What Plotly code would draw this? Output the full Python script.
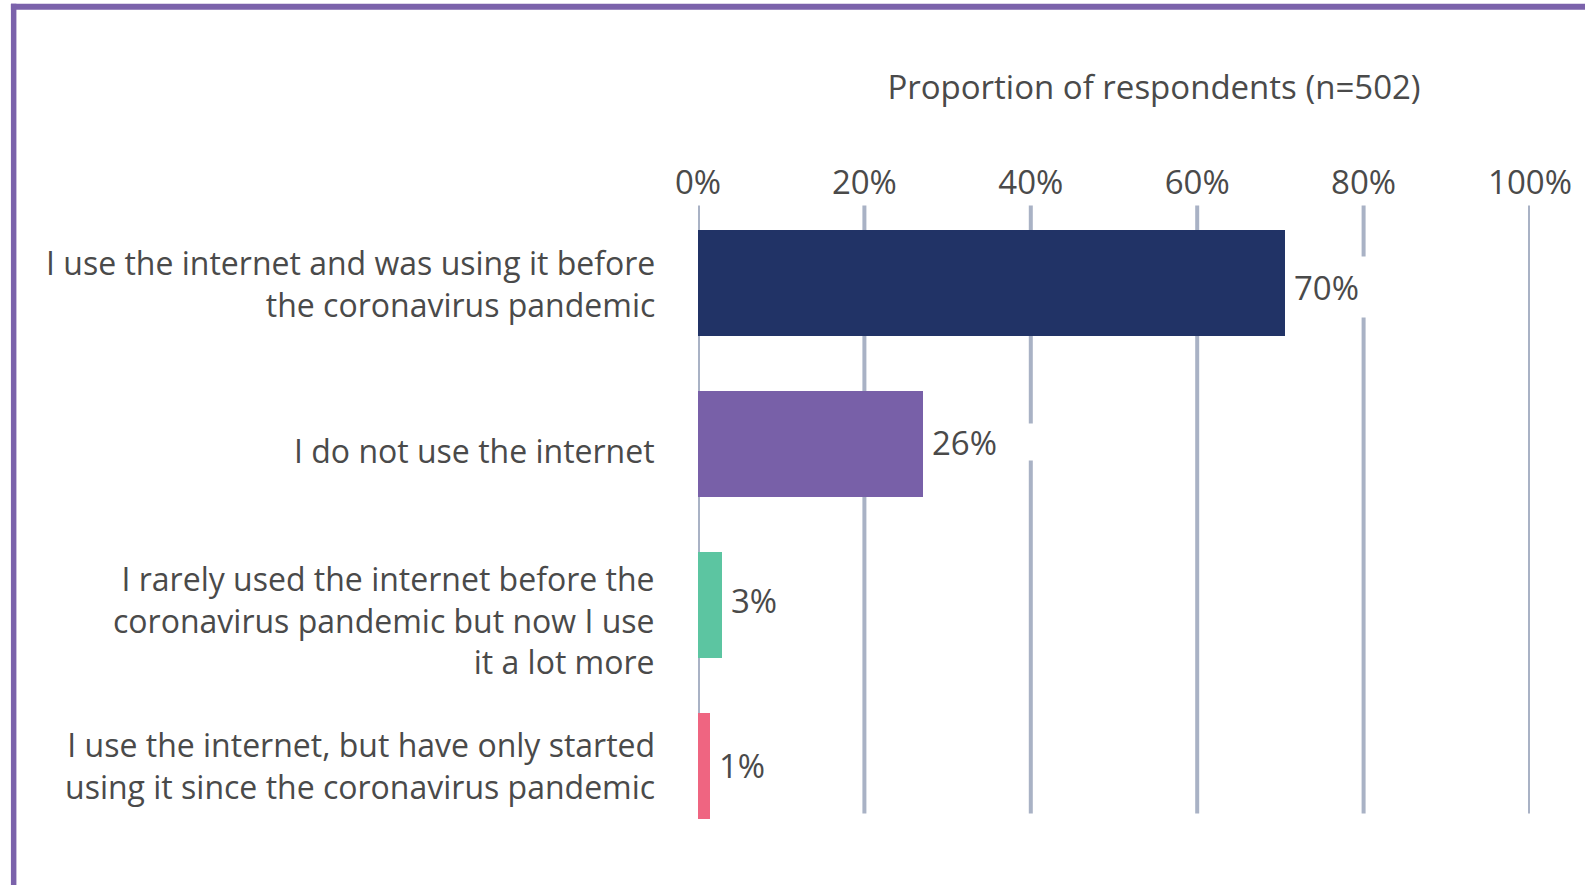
import plotly.graph_objects as go

# ---- data ----
categories = [
    "I use the internet and was using it before<br>the coronavirus pandemic",
    "I do not use the internet",
    "I rarely used the internet before the<br>coronavirus pandemic but now I use<br>it a lot more",
    "I use the internet, but have only started<br>using it since the coronavirus pandemic",
]
values = [70.5, 27.0, 2.9, 1.4]
value_labels = ["70%", "26%", "3%", "1%"]
bar_colors = ["#213366", "#7860A8", "#5CC5A1", "#EF6581"]
tick_values = [0, 20, 40, 60, 80, 100]
tick_labels = ["0%", "20%", "40%", "60%", "80%", "100%"]
title_text = "Proportion of respondents (n=502)"

# ---- layout geometry (pixels) ----
WIDTH, HEIGHT = 1585, 885
L, R = 697.5, 55
T, B = 202.5, 38.5
PW = WIDTH - L - R
PH = HEIGHT - T - B

def fx(px):
    return (px - L) / PW

def fy(py):
    return 1 - (py - T) / PH

FONT = "Open Sans"
TXT = "#4A4A4A"
GRID = "#A9B2C5"
BORDER = "#7B62AB"
FS_CAT = 32
FS_NUM = 33

ypos = list(range(len(categories)))

fig = go.Figure()
fig.add_trace(go.Bar(
    x=values, y=ypos, orientation="h",
    marker=dict(color=bar_colors, line=dict(width=0)),
    width=0.66, hoverinfo="skip",
))

shapes = []
# gridlines
for tv in tick_values:
    shapes.append(dict(type="line", xref="x", yref="y", x0=tv, x1=tv,
                       y0=-0.4845, y1=3.298, layer="below",
                       line=dict(color=GRID, width=4)))
# border
shapes.append(dict(type="rect", xref="paper", yref="paper",
                   x0=fx(10), x1=fx(WIDTH + 5), y0=fy(9), y1=fy(3),
                   fillcolor=BORDER, line=dict(width=0), layer="above"))
shapes.append(dict(type="rect", xref="paper", yref="paper",
                   x0=fx(10), x1=fx(15.5), y0=fy(HEIGHT + 5), y1=fy(3),
                   fillcolor=BORDER, line=dict(width=0), layer="above"))

annotations = []
label_yshift = [0, -6, -15, 0]
for i, c in enumerate(categories):
    annotations.append(dict(
        text=c, xref="paper", yref="y", x=fx(656), y=i,
        xanchor="right", yanchor="middle", align="right", showarrow=False,
        yshift=label_yshift[i],
        font=dict(family=FONT, size=FS_CAT, color=TXT)))

box_w = [82, 112, None, None]
box_h = [60, 36, None, None]
val_yshift = [-4, 2, 4, 0]
for i, (v, t) in enumerate(zip(values, value_labels)):
    a = dict(text=t, xref="x", yref="y", x=v, y=i, xanchor="left",
             yanchor="middle", showarrow=False, xshift=8, align="left",
             bgcolor="white", borderpad=0, yshift=val_yshift[i],
             font=dict(family=FONT, size=FS_NUM, color=TXT))
    if box_w[i]:
        a["width"] = box_w[i]
        a["height"] = box_h[i]
    annotations.append(a)

fig.update_layout(
    width=WIDTH, height=HEIGHT,
    margin=dict(l=L, r=R, t=T, b=B, pad=0),
    paper_bgcolor="white", plot_bgcolor="white",
    showlegend=False, bargap=0,
    title=dict(text=title_text, xref="container", yref="container",
               x=1154 / WIDTH, y=1 - 87 / HEIGHT, xanchor="center", yanchor="middle",
               font=dict(family=FONT, size=33, color=TXT)),
    xaxis=dict(range=[0, 100], side="top", tickvals=tick_values, ticktext=tick_labels,
               showgrid=False, zeroline=False, showline=False, ticks="",
               tickfont=dict(family=FONT, size=FS_NUM, color=TXT), ticklabelstandoff=1,
               fixedrange=True),
    yaxis=dict(range=[3.5, -0.5], showticklabels=False, showgrid=False,
               zeroline=False, showline=False, ticks="", fixedrange=True),
    shapes=shapes, annotations=annotations,
)

fig.write_html("out.html")
